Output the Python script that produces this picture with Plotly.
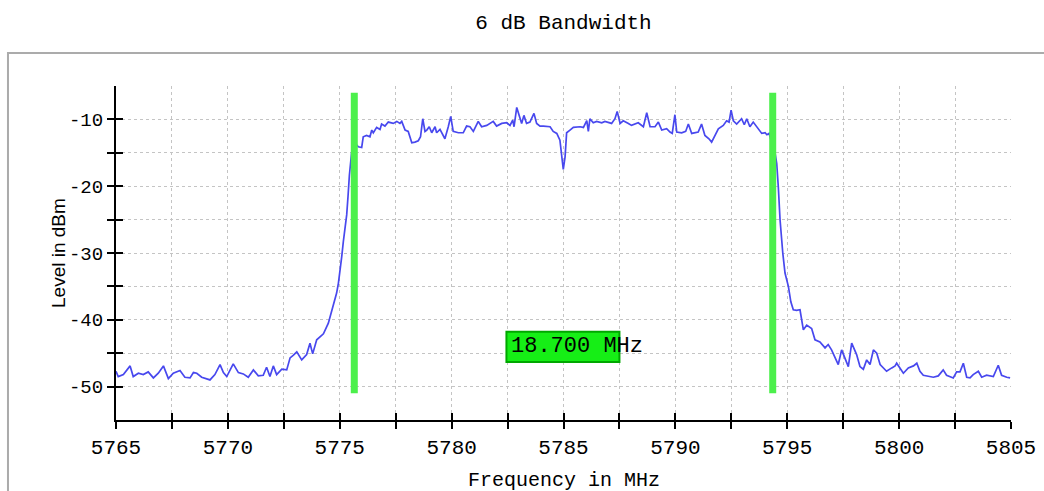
import plotly.graph_objects as go

# ---------------- data ----------------
freq_mhz = [
    5765.00, 5765.10, 5765.33, 5765.63, 5765.77, 5766.00, 5766.22, 5766.44, 5766.67, 5766.89,
    5767.12, 5767.34, 5767.56, 5767.86, 5768.08, 5768.31, 5768.46, 5768.61, 5768.83, 5769.05,
    5769.20, 5769.42, 5769.65, 5769.80, 5769.95, 5770.24, 5770.47, 5770.69, 5770.91, 5771.14,
    5771.36, 5771.58, 5771.73, 5771.88, 5772.03, 5772.18, 5772.41, 5772.63,
    5772.78, 5772.93, 5773.08, 5773.30, 5773.52, 5773.67, 5773.79, 5773.97, 5774.12, 5774.27,
    5774.49, 5774.64, 5774.76, 5774.86, 5774.94, 5775.01, 5775.09, 5775.16, 5775.23, 5775.31,
    5775.37, 5775.43, 5775.53, 5775.65, 5775.75, 5775.83, 5775.98,
    5776.05, 5776.20, 5776.35, 5776.43, 5776.50, 5776.65, 5776.80, 5776.87, 5777.02, 5777.17,
    5777.39, 5777.55, 5777.69, 5777.77, 5777.92, 5778.06, 5778.22, 5778.36, 5778.51, 5778.61,
    5778.71, 5778.81, 5778.89, 5779.00, 5779.11, 5779.26, 5779.33, 5779.48, 5779.63, 5779.70,
    5779.85, 5779.96, 5780.07, 5780.30, 5780.52, 5780.67, 5780.82, 5780.97, 5781.19, 5781.34,
    5781.57, 5781.86, 5782.01, 5782.24, 5782.46, 5782.61, 5782.73, 5782.79, 5782.91, 5783.06,
    5783.13, 5783.23, 5783.35, 5783.50, 5783.68, 5783.80, 5783.95, 5784.10, 5784.25, 5784.40,
    5784.54, 5784.70, 5784.84, 5784.92, 5784.99, 5785.07, 5785.14, 5785.29, 5785.44, 5785.74,
    5785.89, 5786.04, 5786.11, 5786.18, 5786.33, 5786.48, 5786.71, 5786.85, 5787.00, 5787.15,
    5787.30, 5787.40, 5787.53, 5787.67, 5787.90,
    5788.04, 5788.34, 5788.57, 5788.72, 5788.87, 5789.09, 5789.24, 5789.39, 5789.61, 5789.76,
    5789.86, 5789.98, 5790.06, 5790.28, 5790.46, 5790.58, 5790.73, 5791.02, 5791.17, 5791.32,
    5791.50, 5791.62, 5791.77, 5791.92, 5792.14, 5792.29, 5792.40, 5792.49, 5792.59, 5792.74,
    5792.96, 5793.08, 5793.19, 5793.33, 5793.48, 5793.71, 5793.86, 5794.01, 5794.09, 5794.19,
    5794.30,
    5794.45, 5794.53, 5794.60, 5794.68, 5794.80, 5794.90, 5795.05, 5795.16, 5795.27, 5795.42,
    5795.57, 5795.72, 5795.87, 5795.94, 5796.09, 5796.24, 5796.46, 5796.69, 5796.83, 5796.98,
    5797.13, 5797.28, 5797.43, 5797.58, 5797.73, 5797.88, 5798.10, 5798.25, 5798.40, 5798.55,
    5798.70, 5798.85, 5799.00, 5799.15, 5799.44, 5799.67, 5799.82, 5799.89, 5800.04, 5800.19,
    5800.41, 5800.64, 5800.79, 5800.93, 5801.08, 5801.30, 5801.53, 5801.75, 5801.97, 5802.12,
    5802.42, 5802.57, 5802.72, 5802.87, 5803.02, 5803.17, 5803.31, 5803.54, 5803.69, 5803.91,
    5804.21, 5804.43, 5804.58, 5804.81, 5804.96,
]

level_dbm = [
    -47.7, -48.5, -48.2, -46.9, -48.5, -48.0, -48.2, -47.8, -48.7, -48.0,
    -46.9, -48.8, -48.0, -47.6, -48.6, -48.7, -47.9, -48.0, -48.6, -48.8,
    -49.0, -48.2, -46.7, -47.9, -48.5, -46.6, -47.9, -48.1, -48.6, -47.5,
    -48.4, -48.3, -47.1, -48.5, -46.9, -48.2, -47.4, -47.5,
    -45.7, -45.3, -44.8, -46.0, -45.2, -43.5, -45.1, -43.0, -42.6, -42.1,
    -40.5, -38.8, -37.2, -36.0, -34.5, -32.8, -30.5, -28.3, -26.5, -24.3,
    -21.5, -18.4, -15.0, -14.0, -13.8, -14.1, -14.2,
    -12.6, -12.4, -12.6, -11.6, -12.0, -11.2, -11.5, -10.7, -11.0, -10.4,
    -10.6, -10.3, -10.6, -10.3, -11.6, -11.8, -13.5, -13.4, -13.2, -12.6,
    -9.9, -11.8, -11.6, -11.1, -12.0, -11.1, -12.0, -11.5, -12.6, -12.9,
    -11.1, -9.55, -11.8, -12.0, -12.0, -11.0, -11.1, -11.8, -10.3, -11.1,
    -10.9, -10.3, -11.0, -10.6, -10.5, -10.9, -10.1, -11.1, -8.2, -9.8,
    -10.6, -9.4, -10.6, -10.4, -9.1, -10.6, -11.0, -11.0, -11.0, -11.1,
    -11.8, -12.1, -13.1, -15.4, -17.5, -15.6, -12.0, -11.6, -11.2, -11.1,
    -11.2, -10.2, -11.8, -9.9, -10.5, -10.3, -10.5, -10.3, -10.4, -10.6,
    -9.9, -8.8, -10.6, -10.2, -10.6,
    -10.9, -10.5, -11.1, -9.0, -11.1, -11.1, -10.4, -11.6, -11.4, -11.9,
    -12.1, -9.3, -11.9, -12.0, -11.8, -10.7, -12.1, -11.9, -10.7, -12.4,
    -12.9, -13.4, -12.4, -11.4, -10.9, -10.2, -10.4, -8.6, -10.2, -10.7,
    -9.9, -10.8, -9.9, -11.1, -10.4, -11.4, -12.1, -12.0, -12.3, -12.1,
    -13.5,
    -14.9, -16.6, -20.1, -25.1, -30.0, -33.0, -35.0, -37.3, -38.5, -38.6,
    -38.5, -41.5, -40.8, -41.0, -41.3, -43.0, -43.3, -44.2, -43.7, -44.5,
    -45.5, -46.7, -44.5, -45.8, -47.0, -43.5, -45.2, -47.0, -47.4, -46.0,
    -46.7, -44.5, -45.0, -46.7, -47.7, -47.2, -46.9, -46.5, -47.2, -48.0,
    -47.2, -46.9, -46.5, -47.7, -48.3, -48.4, -48.6, -48.4, -47.5, -48.3,
    -48.7, -47.8, -47.8, -46.5, -48.6, -48.7, -48.2, -47.7, -48.6, -48.3,
    -48.5, -46.8, -48.3, -48.6, -48.7,
]

marker_freqs = [5775.65, 5794.35]       # 6 dB points (MHz)
marker_span_dbm = [-51, -6]            # vertical extent of the marker bars

x_tick_vals = [5765, 5767.5, 5770, 5772.5, 5775, 5777.5, 5780, 5782.5, 5785,
               5787.5, 5790, 5792.5, 5795, 5797.5, 5800, 5802.5, 5805]
x_tick_text = ["5765", "", "5770", "", "5775", "", "5780", "", "5785",
               "", "5790", "", "5795", "", "5800", "", "5805"]
y_tick_vals = [-50, -45, -40, -35, -30, -25, -20, -15, -10]
y_tick_text = ["-50", "", "-40", "", "-30", "", "-20", "", "-10"]

x_range = [5765, 5805]
y_range = [-55, -5]

# ---------------- figure ----------------
PIX = "Liberation Mono"
TRACE_BLUE = "#4848ee"
MARK_GREEN = "#4cf04c"

fig = go.Figure()

fig.add_trace(go.Scatter(
    x=freq_mhz, y=level_dbm, mode="lines",
    line=dict(color=TRACE_BLUE, width=1.7),
    hoverinfo="x+y", showlegend=False,
))

for f in marker_freqs:
    fig.add_trace(go.Scatter(
        x=[f, f], y=marker_span_dbm, mode="lines",
        line=dict(color=MARK_GREEN, width=7),
        hoverinfo="x", showlegend=False,
    ))

# invisible trace on the overlay axes (inner half of the crossing ticks)
fig.add_trace(go.Scatter(x=x_range, y=y_range, xaxis="x2", yaxis="y2",
                         mode="markers", marker=dict(opacity=0),
                         hoverinfo="skip", showlegend=False))

bandwidth = marker_freqs[1] - marker_freqs[0]
mid = (marker_freqs[0] + marker_freqs[1]) / 2

fig.add_shape(type="rect", xref="x", yref="y",
              x0=mid - 2.55, x1=mid + 2.5, y0=-46.3, y1=-41.8,
              fillcolor="#16ee16", line=dict(color="#00a800", width=2),
              layer="above")
fig.add_annotation(x=mid - 2.45, y=-44.05, xref="x", yref="y",
                   text=f"{bandwidth:.3f} MHz", showarrow=False,
                   xanchor="left", yanchor="middle",
                   font=dict(family=PIX, size=22, color="black"))

# axis titles
fig.add_annotation(x=0.5, y=-0.1826, xref="paper", yref="paper",
                   text="Frequency in MHz", showarrow=False,
                   xanchor="center", yanchor="middle",
                   font=dict(family=PIX, size=20, color="black"))
fig.add_annotation(x=-0.0648, y=0.5, xref="paper", yref="paper",
                   text="Level in dBm", showarrow=False, textangle=-90,
                   xanchor="center", yanchor="middle",
                   font=dict(family="Liberation Sans", size=19, color="black"))

# outer light grey frame
fig.add_shape(type="rect", xref="paper", yref="paper",
              x0=-0.1207, x1=1.2, y0=-0.3, y1=1.0988,
              line=dict(color="#ababab", width=2), fillcolor="rgba(0,0,0,0)",
              layer="below")

axis_common = dict(showline=True, linecolor="black", linewidth=2,
                   ticks="outside", ticklen=7, tickwidth=1.5, tickcolor="black",
                   zeroline=False, mirror=False, automargin=False,
                   showgrid=True, gridcolor="#c4c4c4", griddash="dot", gridwidth=1)

fig.update_layout(
    width=1044, height=491,
    margin=dict(l=116, r=33, t=86, b=71, autoexpand=False),
    paper_bgcolor="white", plot_bgcolor="white",
    title=dict(text="6 dB Bandwidth", x=0.5, xref="paper", xanchor="center",
               y=1 - 22 / 491, yref="container", yanchor="middle",
               font=dict(family=PIX, size=21, color="black")),
    xaxis=dict(range=x_range, tickmode="array", tickvals=x_tick_vals,
               ticktext=x_tick_text,
               tickfont=dict(family=PIX, size=21, color="black"),
               **axis_common),
    yaxis=dict(range=y_range, tickmode="array", tickvals=y_tick_vals,
               ticktext=y_tick_text,
               tickfont=dict(family=PIX, size=19, color="black"),
               **axis_common),
    xaxis2=dict(overlaying="x", anchor="y", side="bottom", range=x_range,
                tickmode="array", tickvals=x_tick_vals, ticks="inside",
                ticklen=7, tickwidth=1.5, tickcolor="black", automargin=False,
                showticklabels=False, showgrid=False, showline=False, zeroline=False),
    yaxis2=dict(overlaying="y", anchor="x", side="left", range=y_range,
                tickmode="array", tickvals=y_tick_vals, ticks="inside",
                ticklen=7, tickwidth=1.5, tickcolor="black", automargin=False,
                showticklabels=False, showgrid=False, showline=False, zeroline=False),
)

fig.write_html("out.html", config={"displayModeBar": False},
               post_script="document.body.style.margin='0';")
